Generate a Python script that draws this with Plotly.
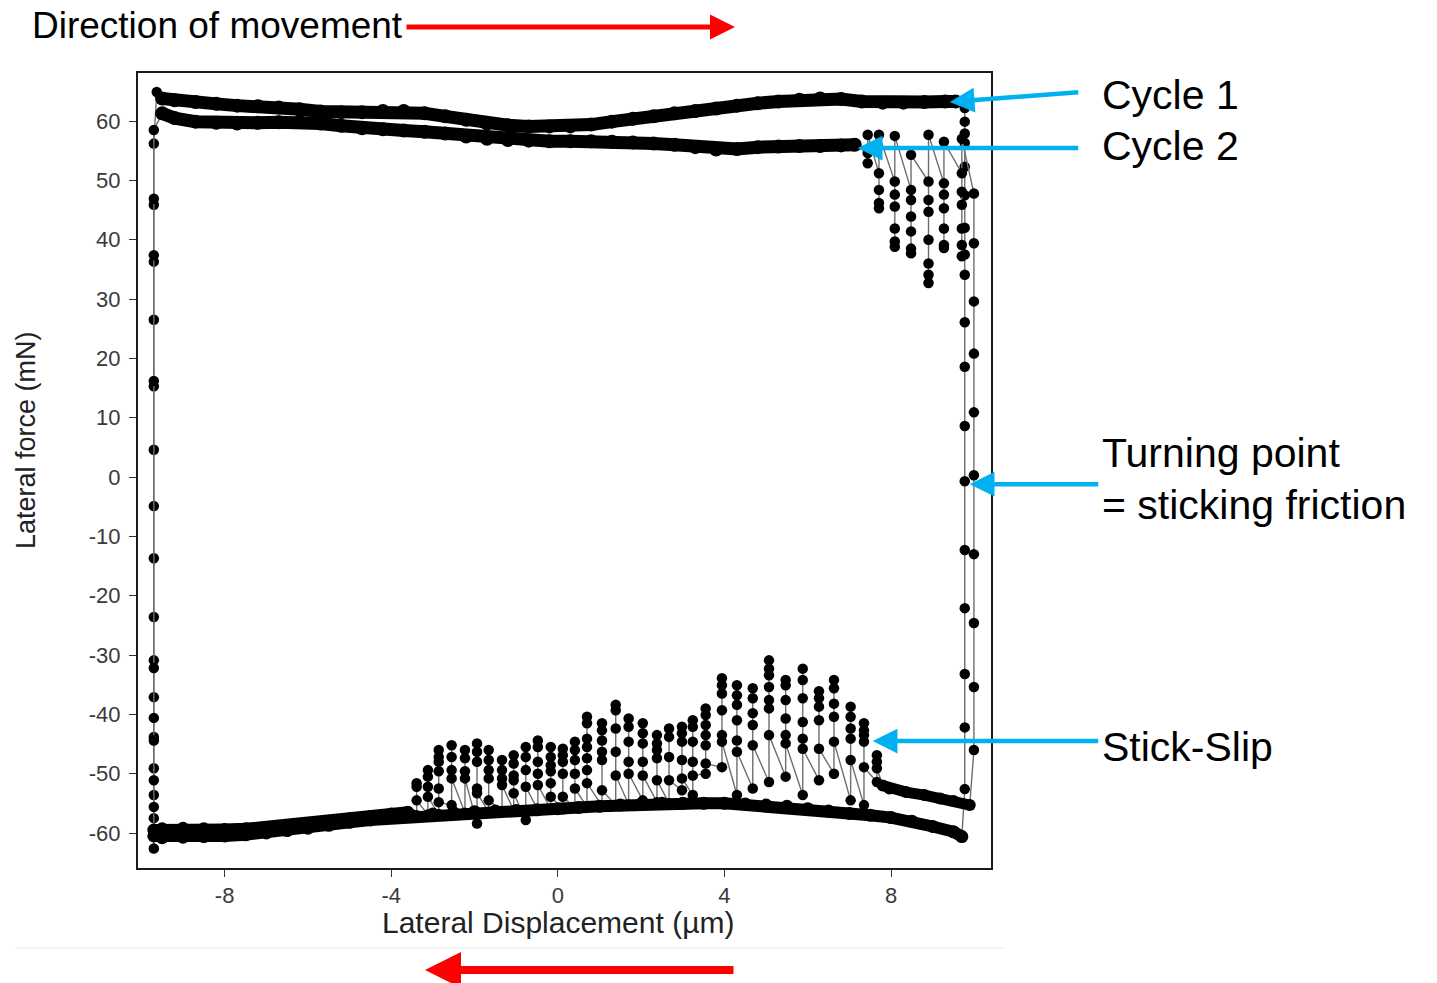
import plotly.graph_objects as go

# ------------------------------------------------------------------ data
# Cycle 1, forward stroke (upper band, ~63 mN)
c1_top_x = [-9.5, -9.2, -8.7, -8.2, -7.7, -7.2, -6.7, -6.2, -5.7, -5.2, -4.7, -4.2, -3.7, -3.2,
            -2.7, -2.2, -1.7, -1.2, -0.7, -0.2, 0.3, 0.8, 1.3, 1.8, 2.3, 2.8, 3.3, 3.8, 4.3, 4.8,
            5.3, 5.8, 6.3, 6.8, 7.3, 7.8, 8.3, 8.8, 9.3, 9.55]
c1_top_y = [63.8, 63.5, 63.2, 62.9, 62.6, 62.5, 62.3, 62.0, 61.6, 61.5, 61.5, 61.7, 61.7, 61.3,
            60.8, 60.2, 59.6, 59.3, 59.1, 59.1, 59.1, 59.4, 59.9, 60.4, 60.8, 61.3, 61.7, 62.1,
            62.6, 63.0, 63.3, 63.6, 63.8, 63.7, 63.3, 63.1, 63.1, 63.2, 63.3, 63.3]

# Cycle 2, forward stroke (lower top band, ~56-60 mN)
c2_top_x = [-9.5, -9.2, -8.7, -8.2, -7.7, -7.2, -6.7, -6.2, -5.7, -5.2, -4.7, -4.2, -3.7, -3.2,
            -2.7, -2.2, -1.7, -1.2, -0.7, -0.2, 0.3, 0.8, 1.3, 1.8, 2.3, 2.8, 3.3, 3.8, 4.3, 4.8,
            5.3, 5.8, 6.3, 6.8, 7.13]
c2_top_y = [61.3, 60.5, 59.9, 59.7, 59.6, 59.7, 59.8, 59.9, 59.6, 59.2, 58.8, 58.6, 58.4, 58.2,
            57.9, 57.4, 57.0, 56.8, 56.7, 56.6, 56.6, 56.6, 56.5, 56.4, 56.2, 56.0, 55.6, 55.2,
            55.3, 55.6, 55.7, 55.8, 55.8, 55.9, 56.0]

# Cycle 1, backward stroke (smooth lower band)
c1_bot_x = [9.70, 9.5, 9.0, 8.5, 8.0, 7.5, 7.0, 6.5, 6.0, 5.5, 5.0, 4.5, 4.0, 3.5, 3.0, 2.5,
            2.0, 1.5, 1.0, 0.5, 0.0, -0.5, -1.0, -1.5, -2.0, -2.5, -3.0, -3.5, -4.0, -4.5,
            -5.0, -5.5, -6.0, -6.5, -7.0, -7.5, -8.0, -8.5, -9.0, -9.5, -9.7]
c1_bot_y = [-60.6, -59.8, -58.9, -58.0, -57.4, -57.0, -56.7, -56.3, -55.9, -55.5, -55.3, -55.1,
            -55.0, -55.0, -55.0, -55.0, -55.1, -55.3, -55.5, -55.7, -55.9, -56.1, -56.2, -56.3,
            -56.4, -56.6, -56.8, -57.1, -57.4, -57.8, -58.2, -58.7, -59.2, -59.6, -60.0, -60.3,
            -60.5, -60.6, -60.7, -60.8, -60.5]

# Cycle 2, backward stroke: smooth part before stick-slip and after it
c2_bot_r_x = [9.89, 9.5, 9.18, 8.8, 8.36, 7.96, 7.8]
c2_bot_r_y = [-55.3, -54.6, -54.2, -53.6, -53.1, -52.5, -52.0]
c2_bot_l_x = [-3.6, -4.0, -4.5, -5.0, -5.5, -6.0, -6.5, -7.0, -7.5, -8.0, -8.5, -9.0, -9.5, -9.7]
c2_bot_l_y = [-56.5, -56.8, -57.2, -57.6, -58.0, -58.4, -58.8, -59.1, -59.3, -59.4, -59.3, -59.2,
              -59.3, -59.5]

# Turning points (vertical runs of points)
left_x = -9.70
left_up1_y = [-62.6, -57.5, -53.6, -49.1, -43.8, -37.1, -30.9, -23.6, -13.7, -4.9, 4.6, 15.3,
              26.5, 36.3, 45.9, 56.2, 64.9]
left_up2_y = [-60.5, -55.6, -51.1, -44.4, -40.6, -32.2, 16.2, 37.4, 46.9, 58.5]
right1_x = 9.77
right_down1_y = [62.2, 59.9, 57.9, 56.3, 52.3, 47.5, 42.0, 37.5, 34.1, 26.1, 18.6, 8.6, -0.7,
                 -12.3, -22.1, -33.2, -42.2, -52.6]
right2_x = 9.99
right_down2_y = [47.8, 39.4, 29.6, 20.8, 10.9, 0.3, -13.0, -24.6, -35.4, -46.0]

# Stick-slip, cycle 2 forward (top right)
ss_top_x = [7.44, 7.71, 8.09, 8.48, 8.90, 9.27, 9.70]
ss_top_cols = [
    [54.6, 52.9, 57.7],
    [51.2, 48.4, 46.2, 45.3, 57.7],
    [49.8, 47.6, 45.6, 41.9, 39.7, 38.8, 57.5],
    [48.4, 46.7, 43.9, 41.4, 38.5, 37.7, 54.3],
    [49.8, 46.7, 44.7, 40.0, 36.0, 34.1, 32.7, 57.7],
    [49.5, 47.6, 45.3, 41.9, 39.1, 38.6, 56.5],
    [51.2, 48.1, 45.9, 41.9, 39.1, 37.2, 57.0],
]

# Stick-slip, cycle 2 backward (bottom)
ss_bot_x = [7.66, 7.35, 7.03, 6.63, 6.27, 5.88, 5.47, 5.07, 4.68, 4.30, 3.94, 3.55, 3.24, 2.98,
            2.67, 2.38, 2.04, 1.70, 1.39, 1.06, 0.70, 0.41, 0.12, -0.17, -0.48, -0.77, -1.06,
            -1.34, -1.66, -1.94, -2.23, -2.55, -2.86, -3.12, -3.39]
ss_bot_cols = [
    [-49.1, -48.0, -46.9, -51.4],
    [-48.9, -44.6, -43.5, -42.7, -41.5, -55.3],
    [-47.7, -44.1, -42.4, -40.4, -38.7, -54.5],
    [-44.6, -40.4, -38.2, -35.6, -34.2, -50.0],
    [-45.8, -41.0, -38.7, -37.3, -36.1, -51.1],
    [-45.8, -44.1, -41.3, -37.3, -34.2, -32.3, -53.6],
    [-44.9, -43.5, -40.7, -37.6, -35.1, -34.2, -50.5],
    [-43.5, -39.0, -37.6, -35.4, -33.4, -32.3, -30.9, -51.4],
    [-45.2, -41.8, -39.8, -37.3, -35.6, -52.5],
    [-46.3, -44.4, -41.0, -38.4, -36.8, -35.1, -53.6],
    [-44.6, -43.5, -39.3, -36.5, -35.1, -33.9, -48.9],
    [-48.3, -45.2, -43.5, -41.8, -40.1, -39.0, -50.0],
    [-50.3, -48.0, -44.6, -42.1, -41.0, -53.6],
    [-50.8, -47.7, -44.6, -43.2, -42.1, -52.8],
    [-51.1, -47.2, -43.8, -42.4, -55.0],
    [-51.1, -47.4, -46.0, -44.9, -43.5, -54.8],
    [-50.3, -48.0, -44.9, -43.2, -41.5, -54.5],
    [-50.0, -48.0, -44.6, -42.1, -40.7, -55.2],
    [-50.3, -46.3, -42.4, -39.3, -38.4, -55.3],
    [-52.8, -47.7, -46.3, -44.4, -42.7, -41.5, -55.4],
    [-51.6, -49.4, -47.4, -45.5, -44.1, -41.5, -40.4, -55.6],
    [-52.5, -50.0, -47.7, -46.0, -44.6, -55.8],
    [-53.9, -50.0, -48.0, -46.9, -45.8, -56.0],
    [-53.9, -51.6, -49.6, -48.6, -47.2, -45.5, -56.0],
    [-51.9, -50.0, -48.0, -45.5, -44.4, -56.1],
    [-52.2, -49.4, -47.2, -45.5, -57.8],
    [-53.3, -51.1, -50.3, -48.3, -46.9, -56.2],
    [-51.9, -50.8, -49.4, -47.7, -56.3],
    [-54.5, -50.8, -49.4, -47.7, -46.0, -56.4],
    [-53.3, -52.5, -48.0, -46.3, -44.9, -58.4],
    [-50.8, -49.6, -47.4, -46.0, -56.6],
    [-50.8, -49.4, -47.2, -45.2, -55.3],
    [-54.8, -52.5, -49.6, -48.0, -47.2, -46.0, -56.8],
    [-53.9, -52.2, -50.5, -49.4, -56.9],
    [-54.5, -52.2, -51.6, -57.0],
]

x_tickvals = [-8, -4, 0, 4, 8]
x_ticktext = ["-8", "-4", "0", "4", "8"]
y_tickvals = [60, 50, 40, 30, 20, 10, 0, -10, -20, -30, -40, -50, -60]
y_ticktext = ["60", "50", "40", "30", "20", "10", "0", "-10", "-20", "-30", "-40", "-50", "-60"]

# ------------------------------------------------------------------ figure
W, H = 1437, 983
L, R, T, B = 138, 991, 73, 868
FONT = "Liberation Sans, Arial, Helvetica, sans-serif"


def px(xp):
    return (xp - L) / (R - L)


def py(yp):
    return (B - yp) / (B - T)


fig = go.Figure()


def thick(x, y, w=10, ms=11):
    fig.add_trace(go.Scatter(x=x, y=y, mode="lines+markers",
                             line=dict(color="black", width=w),
                             marker=dict(color="black", size=ms),
                             hoverinfo="skip", showlegend=False))


def thin(x, y):
    fig.add_trace(go.Scatter(x=x, y=y, mode="lines+markers",
                             line=dict(color="#6e6e6e", width=1.4),
                             marker=dict(color="black", size=10.5),
                             hoverinfo="skip", showlegend=False))


def flatten(xs, cols):
    ox, oy = [], []
    for xv, col in zip(xs, cols):
        ox += [xv] * len(col)
        oy += col
    return ox, oy


# turning run at the left (start) -> cycle 1 forward
thin([left_x] * (len(left_up1_y) - 1) + [c1_top_x[0] - 0.13, c1_top_x[0]],
     left_up1_y[:-1] + [left_up1_y[-1], c1_top_y[0]])
# cycle 1 forward -> right turning run -> cycle 1 backward
thin([c1_top_x[-1]] + [right1_x] * len(right_down1_y) + [c1_bot_x[0]],
     [c1_top_y[-1]] + right_down1_y + [c1_bot_y[0]])
# cycle 1 backward -> left turning run -> cycle 2 forward
thin([c1_bot_x[-1]] + [left_x] * len(left_up2_y) + [c2_top_x[0]],
     [c1_bot_y[-1]] + left_up2_y + [c2_top_y[0]])
# cycle 2 forward stick-slip -> right turning run -> cycle 2 backward
sx, sy = flatten(ss_top_x, ss_top_cols)
thin([c2_top_x[-1]] + sx + [right2_x] * len(right_down2_y) + [c2_bot_r_x[0]],
     [c2_top_y[-1]] + sy + right_down2_y + [c2_bot_r_y[0]])
# cycle 2 backward stick-slip
bx, by = flatten(ss_bot_x, ss_bot_cols)
thin([c2_bot_r_x[-1]] + bx + [c2_bot_l_x[0]],
     [c2_bot_r_y[-1]] + by + [c2_bot_l_y[0]])

thick(c1_top_x, c1_top_y, 13, 14)
thick(c2_top_x, c2_top_y, 13, 14)
thick(c1_bot_x, c1_bot_y, 12, 13)
thick(c2_bot_r_x, c2_bot_r_y, 11, 12)
thick(c2_bot_l_x, c2_bot_l_y, 12, 13)

axis_common = dict(showline=True, linecolor="#1a1a1a", linewidth=2, mirror=True,
                   ticks="outside", ticklen=7, tickcolor="#333", tickwidth=1,
                   showgrid=False, zeroline=False,
                   tickfont=dict(family=FONT, size=22, color="#3a3a3a"))
fig.update_xaxes(range=[-10.08, 10.40], tickvals=x_tickvals, ticktext=x_ticktext,
                 ticklabelstandoff=0, **axis_common)
fig.update_yaxes(range=[-65.9, 68.1], tickvals=y_tickvals, ticktext=y_ticktext,
                 ticklabelstandoff=4, **axis_common)

ann = []
# axis titles
ann.append(dict(xref="paper", yref="paper", x=px(558), y=py(922), text="Lateral Displacement (µm)",
                showarrow=False, xanchor="center", yanchor="middle",
                font=dict(family=FONT, size=30, color="#222")))
ann.append(dict(xref="paper", yref="paper", x=px(26), y=py(440), text="Lateral force (mN)",
                showarrow=False, xanchor="center", yanchor="middle", textangle=-90,
                font=dict(family=FONT, size=27, color="#222")))
# direction text + red arrows
ann.append(dict(xref="paper", yref="paper", x=px(30), y=py(25), text="Direction of movement",
                showarrow=False, xanchor="left", yanchor="middle",
                font=dict(family=FONT, size=37, color="black")))
ann.append(dict(xref="paper", yref="paper", x=px(735), y=py(27), text="", showarrow=True,
                ax=-330, ay=0, axref="pixel", ayref="pixel", arrowhead=2, arrowsize=1.0,
                arrowwidth=5, arrowcolor="#ff0000", standoff=0))
ann.append(dict(xref="paper", yref="paper", x=px(425), y=py(970), text="", showarrow=True,
                ax=310, ay=0, arrowhead=2, arrowsize=0.9, arrowwidth=8,
                arrowcolor="#ff0000", standoff=0))
# labels
for txt, yp in [("Cycle 1", 95), ("Cycle 2", 146), ("Turning point", 453),
                ("= sticking friction", 505), ("Stick-Slip", 747)]:
    ann.append(dict(xref="paper", yref="paper", x=px(1100), y=py(yp), text=txt,
                    showarrow=False, xanchor="left", yanchor="middle",
                    font=dict(family=FONT, size=41, color="black")))
# blue arrows (tips on data)
BLUE = "#00b0f0"
for tx, ty, ax, ay in [(9.41, 63.2, 130, -10), (7.20, 55.45, 222, 0),
                       (9.89, -1.2, 130, 0), (7.56, -44.5, 227, 0)]:
    ann.append(dict(xref="x", yref="y", x=tx, y=ty, text="", showarrow=True, ax=ax, ay=ay,
                    arrowhead=2, arrowsize=1.1, arrowwidth=4.5, arrowcolor=BLUE, standoff=0))

fig.update_layout(
    width=W, height=H, autosize=False,
    margin=dict(l=L, r=W - R, t=T, b=H - B),
    paper_bgcolor="white", plot_bgcolor="white",
    annotations=ann,
    shapes=[dict(type="line", xref="paper", yref="paper", x0=px(15), x1=px(1005),
                 y0=py(948), y1=py(948), line=dict(color="#eeeeee", width=1))],
)

fig.write_html("out.html", config={"displayModeBar": False})
